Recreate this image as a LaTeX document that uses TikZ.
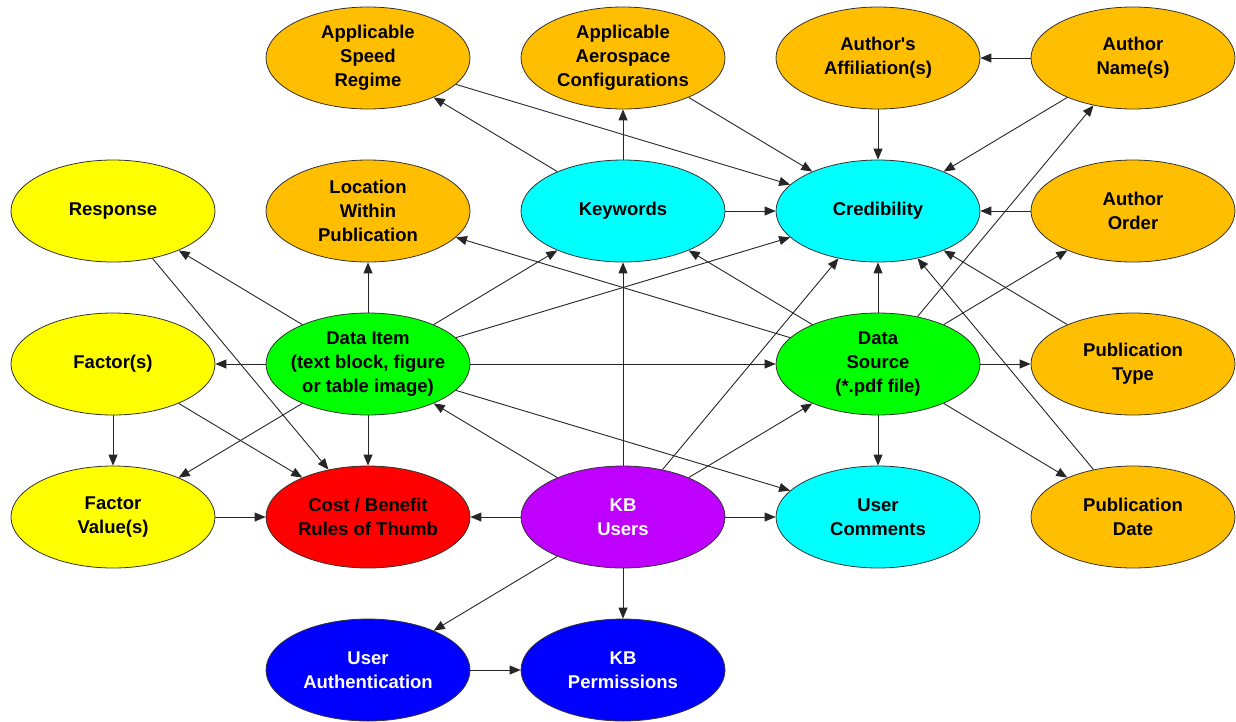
\documentclass[tikz,border=0pt]{standalone}
\usepackage{fontspec}
\setmainfont{Liberation Sans}
\usetikzlibrary{shapes.geometric,arrows.meta}
\definecolor{orng}{HTML}{FFBF00}
\definecolor{yel}{HTML}{FFFF00}
\definecolor{cyn}{HTML}{00FFFF}
\definecolor{grn}{HTML}{00FF00}
\definecolor{rd}{HTML}{FF0000}
\definecolor{prp}{HTML}{BF00FF}
\definecolor{blu}{HTML}{0000FF}
\tikzset{
  ell/.style={ellipse, draw=black!80, line width=0.8pt, minimum width=204pt, minimum height=102pt,
    inner xsep=-12pt, inner ysep=-8pt, align=center, font=\fontsize{18.5}{24}\selectfont\bfseries},
  orgn/.style={ell, fill=orng},
  yeln/.style={ell, fill=yel},
  cynn/.style={ell, fill=cyn},
  grnn/.style={ell, fill=grn},
  rdn/.style={ell, fill=rd},
  prpn/.style={ell, fill=prp, text=white},
  blun/.style={ell, fill=blu, text=white},
  conn/.style={-{Triangle[length=11pt,width=9pt]}, line width=0.9pt, draw=black!85}
}
\begin{document}
\begin{tikzpicture}[x=1pt,y=-1pt]
\useasboundingbox (0,0) rectangle (1236,721);
\node[orgn] (asr) at (368,58) {Applicable\\Speed\\Regime};
\node[orgn] (aac) at (623,58) {Applicable\\Aerospace\\Configurations};
\node[orgn] (aff) at (878,58) {Author\textquotesingle s\\Affiliation(s)};
\node[orgn] (aun) at (1133,58) {Author\\Name(s)};
\node[yeln] (resp) at (113,211) {Response};
\node[orgn] (loc) at (368,211) {Location\\Within\\Publication};
\node[cynn] (kw) at (623,211) {Keywords};
\node[cynn] (cred) at (878,211) {Credibility};
\node[orgn] (aord) at (1133,211) {Author\\Order};
\node[yeln] (fac) at (113,364) {Factor(s)};
\node[grnn] (di) at (368,364) {Data Item\\(text block, figure\\or table image)};
\node[grnn] (ds) at (878,364) {Data\\Source\\(*.pdf file)};
\node[orgn] (ptype) at (1133,364) {Publication\\Type};
\node[yeln] (fv) at (113,517) {Factor\\Value(s)};
\node[rdn] (cb) at (368,517) {Cost / Benefit\\Rules of Thumb};
\node[prpn] (kbu) at (623,517) {KB\\Users};
\node[cynn] (uc) at (878,517) {User\\Comments};
\node[orgn] (pdate) at (1133,517) {Publication\\Date};
\node[blun] (ua) at (368,670) {User\\Authentication};
\node[blun] (kbp) at (623,670) {KB\\Permissions};

\foreach \a/\b in {kw/asr, kw/aac, asr/cred, aac/cred, aff/cred, aun/aff, aun/cred, kw/cred, aord/cred,
  di/resp, di/loc, di/kw, di/cred, di/fac, di/ds, di/cb, di/fv, di/uc,
  resp/cb, fac/fv, fac/cb, fv/cb,
  kbu/cb, kbu/uc, kbu/di, kbu/kw, kbu/cred, kbu/ds, kbu/ua, kbu/kbp, ua/kbp,
  ds/loc, ds/kw, ds/cred, ds/aun, ds/aord, ds/ptype, ds/uc, ds/pdate,
  ptype/cred, pdate/cred}
  \draw[conn] (\a) -- (\b);
\end{tikzpicture}
\end{document}
